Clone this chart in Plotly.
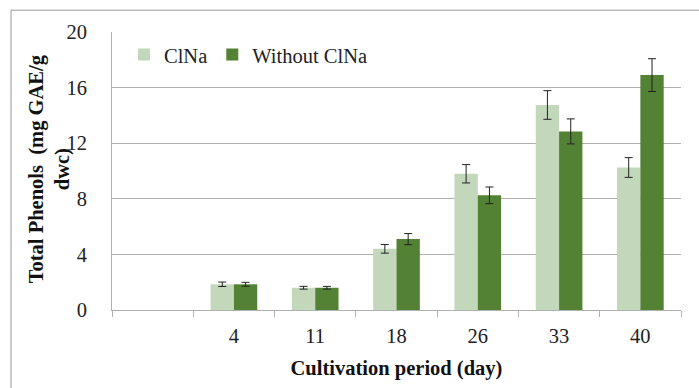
import plotly.graph_objects as go

days = ["", "4", "11", "18", "26", "33", "40"]
clna = [None, 1.85, 1.6, 4.4, 9.8, 14.75, 10.25]
clna_err = [None, 0.16, 0.1, 0.31, 0.66, 1.03, 0.71]
without = [None, 1.85, 1.6, 5.1, 8.25, 12.85, 16.9]
without_err = [None, 0.14, 0.1, 0.4, 0.6, 0.9, 1.18]
y_ticks = [0, 4, 8, 12, 16, 20]

FONT = "Liberation Serif"
W, H = 699, 388
L, R, T, B = 112, 18, 32, 75.5
pw, ph = W - L - R, H - T - B

fig = go.Figure()
fig.add_trace(go.Bar(
    name="ClNa", x=days, y=clna,
    marker=dict(color="#c3d7ba", line=dict(width=0)),
    error_y=dict(type="data", array=clna_err, visible=True,
                 color="#222222", thickness=1, width=4),
))
fig.add_trace(go.Bar(
    name="Without ClNa", x=days, y=without,
    marker=dict(color="#548235", line=dict(width=0)),
    error_y=dict(type="data", array=without_err, visible=True,
                 color="#222222", thickness=1, width=4),
))

def px_x(p):
    return (p - L) / pw

def px_y(p):
    return (H - B - p) / ph

fig.update_layout(
    width=W, height=H,
    margin=dict(l=L, r=R, t=T, b=B),
    paper_bgcolor="white", plot_bgcolor="white",
    barmode="group", bargap=0.426, bargroupgap=0,
    font=dict(family=FONT, color="#222222", size=20),
    showlegend=True,
    legend=dict(orientation="h", x=px_x(124), y=px_y(55), xanchor="left", yanchor="middle",
                font=dict(family=FONT, size=20.5, color="#222222"),
                bgcolor="rgba(0,0,0,0)", borderwidth=0,
                itemclick=False, itemdoubleclick=False),
    xaxis=dict(
        type="category", categoryorder="array", categoryarray=days,
        showline=True, linecolor="#b0b0b0", linewidth=1,
        ticks="outside", ticklen=6, tickcolor="#b0b0b0", tickwidth=1,
        tickson="boundaries", showgrid=False,
        tickfont=dict(family=FONT, size=20.5, color="#222222"),
        ticklabelstandoff=7,
        title=dict(text="<b>Cultivation period (day)</b>",
                   font=dict(family=FONT, size=20.5, color="#111111"), standoff=15),
    ),
    yaxis=dict(
        range=[0, 20], tickvals=y_ticks,
        showline=True, linecolor="#b0b0b0", linewidth=1,
        showgrid=True, gridcolor="#b0b0b0", gridwidth=1,
        zeroline=False, ticks="",
        tickfont=dict(family=FONT, size=20.5, color="#222222"),
        ticklabelstandoff=20,
    ),
    annotations=[dict(
        text="<b>Total Phenols  (mg GAE/g<br>dwc)</b>",
        xref="paper", yref="paper", x=px_x(49.5), y=px_y(170),
        xanchor="center", yanchor="middle", textangle=-90, showarrow=False,
        font=dict(family=FONT, size=20.5, color="#111111"),
    )],
    shapes=[dict(
        type="rect", xref="paper", yref="paper",
        x0=px_x(11), x1=px_x(710), y0=px_y(10), y1=px_y(400),
        line=dict(color="#9a9a9a", width=1), fillcolor="rgba(0,0,0,0)", layer="below",
    )],
)

fig.write_html("out.html")
